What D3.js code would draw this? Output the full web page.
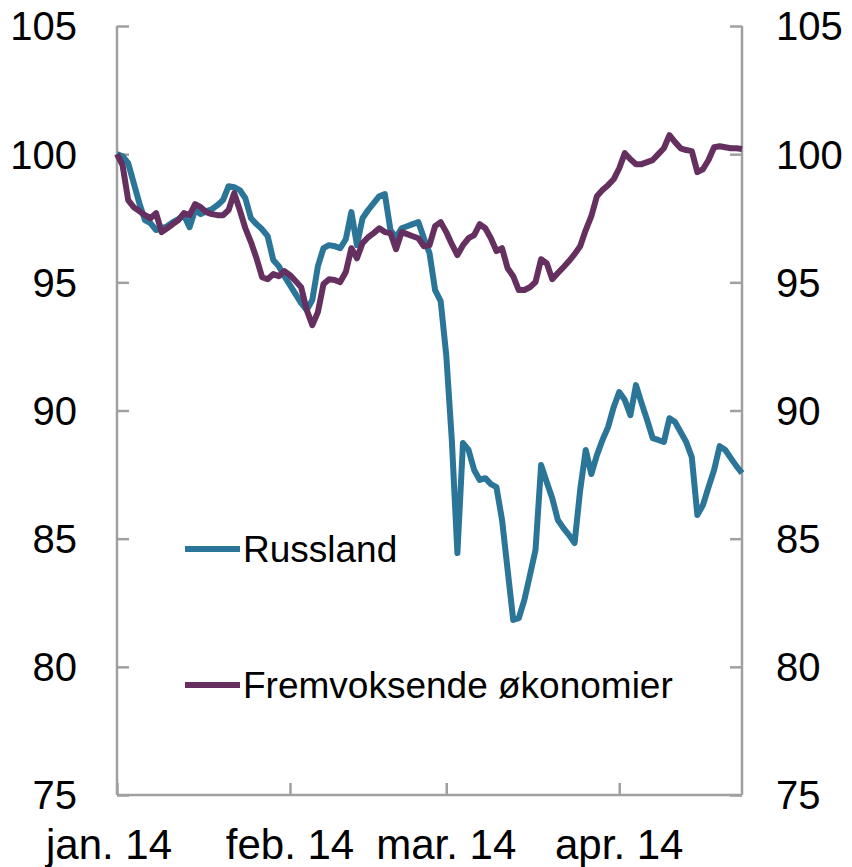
<!DOCTYPE html>
<html>
<head>
<meta charset="utf-8">
<script src="https://cdn.jsdelivr.net/npm/d3@7"></script>
<style>
  body { margin: 0; background: #fff; }
  text { font-family: "Liberation Sans", Arial, sans-serif; fill: #000; }
</style>
</head>
<body>
<div id="chart"></div>
<script>
// daily observations, 1 jan 2014 - 23 apr 2014
var startDate = new Date(2014, 0, 1);
var endDate = new Date(2014, 3, 24);
var dates = d3.timeDay.range(startDate, endDate);

var russland = [
  100.0, 99.92, 99.65, 98.87, 98.09, 97.43, 97.31, 97.04, 97.11, 97.19,
  97.35, 97.46, 97.62, 97.15, 97.82, 97.66, 97.78, 97.85, 98.01, 98.21,
  98.75, 98.71, 98.60, 98.28, 97.50, 97.27, 97.07, 96.80, 95.87, 95.63,
  95.24, 94.89, 94.54, 94.19, 93.92, 94.31, 95.63, 96.33, 96.45, 96.41,
  96.33, 96.68, 97.74, 96.45, 97.50, 97.82, 98.09, 98.36, 98.44, 97.04,
  96.76, 97.11, 97.19, 97.27, 97.35, 96.72, 96.14, 94.70, 94.27, 92.16,
  88.85, 84.44, 88.73, 88.46, 87.68, 87.29, 87.36, 87.13, 87.01, 85.73,
  83.78, 81.83, 81.90, 82.61, 83.58, 84.56, 87.87, 87.21, 86.58, 85.73,
  85.41, 85.14, 84.83, 86.90, 88.46, 87.52, 88.26, 88.85, 89.35, 90.13,
  90.72, 90.41, 89.82, 90.99, 90.29, 89.63, 88.92, 88.85, 88.77, 89.70,
  89.55, 89.16, 88.77, 88.18, 85.92, 86.31, 87.01, 87.68, 88.61, 88.46,
  88.14, 87.83, 87.56
];

var fremvoksende = [
  100.0, 99.57, 98.21, 97.93, 97.78, 97.62, 97.50, 97.70, 96.96, 97.11,
  97.27, 97.43, 97.70, 97.62, 98.05, 97.93, 97.74, 97.66, 97.62, 97.62,
  97.82, 98.48, 97.82, 97.11, 96.57, 95.94, 95.20, 95.12, 95.32, 95.24,
  95.44, 95.28, 95.05, 94.81, 93.92, 93.33, 93.84, 94.93, 95.12, 95.09,
  95.01, 95.40, 96.33, 95.94, 96.53, 96.76, 96.92, 97.11, 96.96, 96.92,
  96.29, 96.96, 96.88, 96.80, 96.72, 96.41, 96.45, 97.19, 97.35, 96.96,
  96.49, 96.06, 96.45, 96.72, 96.84, 97.27, 97.11, 96.72, 96.22, 96.33,
  95.55, 95.24, 94.70, 94.70, 94.81, 95.01, 95.90, 95.75, 95.12, 95.36,
  95.59, 95.83, 96.10, 96.41, 97.04, 97.58, 98.36, 98.60, 98.79, 99.02,
  99.45, 100.04, 99.80, 99.61, 99.61, 99.69, 99.77, 100.00, 100.23, 100.74,
  100.47, 100.23, 100.16, 100.12, 99.30, 99.41, 99.77, 100.27, 100.31, 100.27,
  100.23, 100.23, 100.20
];

var yTicks = [75, 80, 85, 90, 95, 100, 105];
var monthTicks = [new Date(2014, 0, 1), new Date(2014, 1, 1), new Date(2014, 2, 1), new Date(2014, 3, 1)];
var monthLabels = ['jan. 14', 'feb. 14', 'mar. 14', 'apr. 14'];

var seriesNames = ['Russland', 'Fremvoksende økonomier'];
var colors = ['#2b7599', '#65305f'];

var width = 852,
    height = 867,
    margin = {top: 26, right: 110, bottom: 72, left: 117};

var x = d3.scaleTime()
    .domain([startDate, dates[dates.length - 1]])
    .range([margin.left, width - margin.right]);

var y = d3.scaleLinear()
    .domain([75, 105])
    .range([height - margin.bottom, margin.top]);

var svg = d3.select('#chart')
    .append('svg')
    .attr('width', width)
    .attr('height', height);

var axisColor = '#a0a0a0';

// frame: left and right value axes, month axis at bottom (ticks point inward)
var leftAxis = svg.append('g')
    .attr('transform', 'translate(' + margin.left + ',0)')
    .call(d3.axisRight(y).tickValues(yTicks).tickSize(12).tickFormat(''));

var rightAxis = svg.append('g')
    .attr('transform', 'translate(' + (width - margin.right) + ',0)')
    .call(d3.axisLeft(y).tickValues(yTicks).tickSize(12).tickFormat(''));

var bottomAxis = svg.append('g')
    .attr('transform', 'translate(0,' + (height - margin.bottom) + ')')
    .call(d3.axisTop(x).tickValues(monthTicks).tickSize(12).tickFormat(''));

svg.selectAll('.domain, .tick line')
    .attr('stroke', axisColor)
    .attr('stroke-width', 2.5);
leftAxis.select('.domain').attr('d', 'M0,' + y(105) + 'V' + y(75));
rightAxis.select('.domain').attr('d', 'M0,' + y(105) + 'V' + y(75));
bottomAxis.select('.domain').attr('d', 'M' + margin.left + ',0H' + (width - margin.right));

// tick labels
svg.selectAll('.ylab-left')
    .data(yTicks)
    .enter()
    .append('text')
    .attr('x', 77)
    .attr('y', function(d) { return y(d); })
    .attr('dy', '0.36em')
    .attr('text-anchor', 'end')
    .style('font-size', '40px')
    .text(function(d) { return d; });

svg.selectAll('.ylab-right')
    .data(yTicks)
    .enter()
    .append('text')
    .attr('x', 776)
    .attr('y', function(d) { return y(d); })
    .attr('dy', '0.36em')
    .attr('text-anchor', 'start')
    .style('font-size', '40px')
    .text(function(d) { return d; });

svg.selectAll('.xlab')
    .data(monthTicks)
    .enter()
    .append('text')
    .attr('x', function(d, i) { return x(d) - (i === 0 ? 8 : 0); })
    .attr('y', 859)
    .attr('text-anchor', 'middle')
    .style('font-size', '42px')
    .text(function(d, i) { return monthLabels[i]; });

// lines
var line = d3.line()
    .x(function(d, i) { return x(dates[i]); })
    .y(function(d) { return y(d); });

[russland, fremvoksende].forEach(function(s, i) {
  svg.append('path')
      .datum(s)
      .attr('d', line)
      .attr('fill', 'none')
      .attr('stroke', colors[i])
      .attr('stroke-width', 6)
      .attr('stroke-linejoin', 'round');
});

// legend
var legendY = [549, 685];
seriesNames.forEach(function(name, i) {
  svg.append('line')
      .attr('x1', 185).attr('x2', 240)
      .attr('y1', legendY[i]).attr('y2', legendY[i])
      .attr('stroke', colors[i])
      .attr('stroke-width', 6);
  svg.append('text')
      .attr('x', 243)
      .attr('y', legendY[i])
      .attr('dy', '0.36em')
      .style('font-size', '37px')
      .text(name);
});
</script>
</body>
</html>
